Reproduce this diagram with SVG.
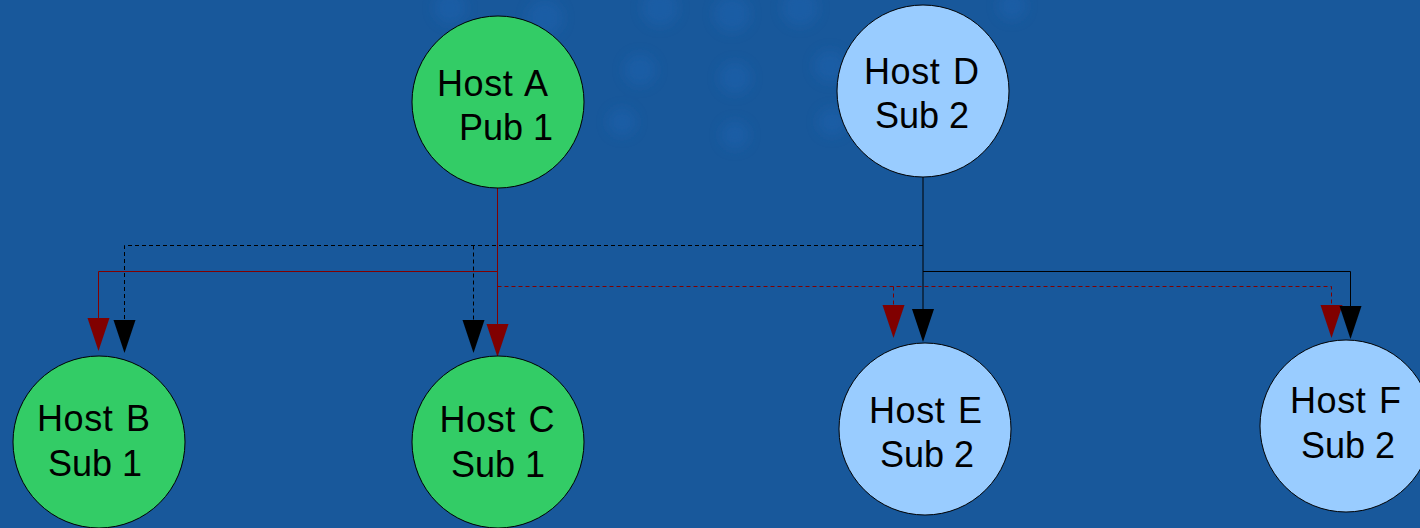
<svg xmlns="http://www.w3.org/2000/svg" width="1420" height="528" viewBox="0 0 1420 528">
<style>
.node{stroke:#000;stroke-width:1}
.pub{fill:#33cc66}
.sub2{fill:#99ccff}
.lbl{font-family:"Liberation Sans",Arial,sans-serif;font-size:36px;fill:#000}
.h{word-spacing:2px;letter-spacing:0.6px}
.ln{fill:none;stroke-width:1}
.red{stroke:#800000}
.blk{stroke:#000}
.dash{stroke-dasharray:4,3}
</style>
<defs>
<marker id="arR" markerUnits="userSpaceOnUse" markerWidth="40" markerHeight="40" refX="0" refY="0" orient="auto" overflow="visible">
<path d="M0,-11 L33,0 L0,11 Z" fill="#800000" stroke="none"/>
</marker>
<marker id="arK" markerUnits="userSpaceOnUse" markerWidth="40" markerHeight="40" refX="0" refY="0" orient="auto" overflow="visible">
<path d="M0,-11 L33,0 L0,11 Z" fill="#000" stroke="none"/>
</marker>
<filter id="blur" x="-50%" y="-50%" width="200%" height="200%"><feGaussianBlur stdDeviation="6"/></filter>
</defs>
<rect width="1420" height="528" fill="#18589b"/>
<g id="bg-pattern" fill="#1f62ad" opacity="0.55" filter="url(#blur)">
<circle cx="450" cy="8" r="16"/>
<circle cx="545" cy="18" r="18"/>
<circle cx="660" cy="8" r="18"/>
<circle cx="732" cy="14" r="18"/>
<circle cx="800" cy="8" r="18"/>
<circle cx="1012" cy="6" r="14"/>
<circle cx="640" cy="70" r="16"/>
<circle cx="735" cy="78" r="16"/>
<circle cx="830" cy="66" r="16"/>
<circle cx="622" cy="122" r="14"/>
<circle cx="735" cy="135" r="14"/>
<circle cx="832" cy="122" r="14"/>
</g>
<g id="connectors">
<path class="ln red" d="M497.5,188 V324" marker-end="url(#arR)"/>
<path class="ln red" d="M497.5,271.5 H98.5 V318" marker-end="url(#arR)"/>
<path class="ln blk dash" d="M923,245.5 H124.5 V320" marker-end="url(#arK)"/>
<path class="ln blk dash" d="M473.5,245.5 V320" marker-end="url(#arK)"/>
<path class="ln red dash" d="M497.5,286.5 H1331.5 V305" marker-end="url(#arR)"/>
<path class="ln red dash" d="M893.5,286.5 V305" marker-end="url(#arR)"/>
<path class="ln blk" d="M923,177 V309" marker-end="url(#arK)"/>
<path class="ln blk" d="M923,271.5 H1350.5 V306" marker-end="url(#arK)"/>
</g>
<g id="hostA">
<circle class="node pub" cx="498" cy="102" r="86"/>
<text class="lbl h" x="437" y="96">Host A</text>
<text class="lbl" x="459" y="140">Pub 1</text>
</g>
<g id="hostD">
<circle class="node sub2" cx="923" cy="91" r="86"/>
<text class="lbl h" x="864" y="84">Host D</text>
<text class="lbl" x="875" y="128">Sub 2</text>
</g>
<g id="hostB">
<circle class="node pub" cx="99" cy="442" r="86"/>
<text class="lbl h" x="37" y="431">Host B</text>
<text class="lbl" x="48" y="476">Sub 1</text>
</g>
<g id="hostC">
<circle class="node pub" cx="498" cy="442" r="86"/>
<text class="lbl h" x="439.5" y="431.5">Host C</text>
<text class="lbl" x="451" y="476.5">Sub 1</text>
</g>
<g id="hostE">
<circle class="node sub2" cx="925" cy="429" r="86"/>
<text class="lbl h" x="869" y="423">Host E</text>
<text class="lbl" x="880" y="467">Sub 2</text>
</g>
<g id="hostF">
<circle class="node sub2" cx="1346" cy="426" r="86"/>
<text class="lbl h" x="1290" y="413">Host F</text>
<text class="lbl" x="1301" y="457.5">Sub 2</text>
</g>
</svg>
